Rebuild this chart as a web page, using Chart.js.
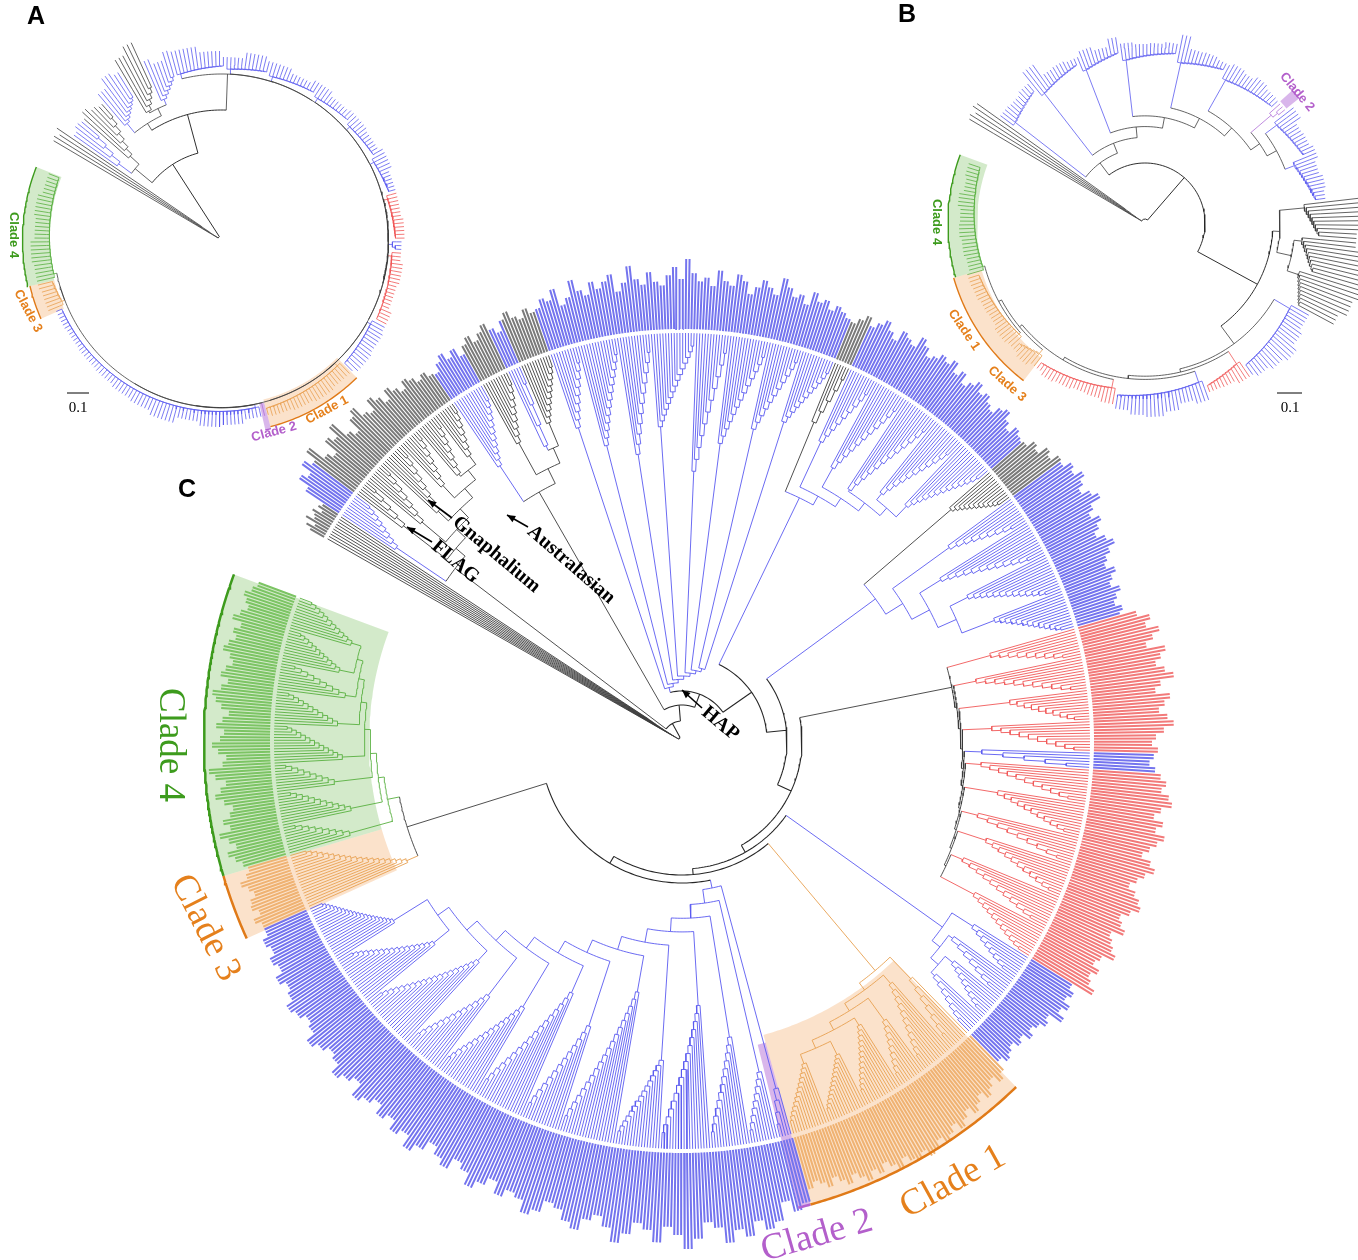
<!DOCTYPE html>
<html>
<head>
<meta charset="utf-8">
<script src="https://cdn.jsdelivr.net/npm/chart.js@4.4.0/dist/chart.umd.min.js"></script>
<style>
html, body { margin: 0; padding: 0; background: #fff; }
#wrap { width: 1358px; height: 1260px; }
</style>
</head>
<body>
<div id="wrap"><canvas id="tree"></canvas></div>
<script>
// ---------- panel C (big tree) ----------
// angles in degrees clockwise from 12 o'clock, leaves laid out from the outgroup round to clade 4
const cStart = 299.5, cStep = 0.4, cRing = 408;
// leaf runs: [leaves, first node radius, last node radius, colour]
const runsOutgroup = [[10, 4, 40, 'k']];
const runsFlag = [[9, 345, 390, 'b'], [6, 352, 395, 'k'], [8, 340, 395, 'k'], [9, 335, 395, 'k'], [8, 350, 398, 'k'], [8, 348, 395, 'k'], [8, 356, 398, 'k']];
const runsAustral = [[12, 330, 392, 'b'], [10, 340, 395, 'k'], [5, 325, 390, 'b'], [11, 345, 396, 'k']];
const runsTop = [[10, 330, 392, 'b'], [14, 305, 392, 'b'], [12, 290, 390, 'b'], [16, 315, 395, 'b'], [12, 270, 390, 'b'], [14, 300, 392, 'b'], [12, 320, 395, 'b'], [12, 335, 395, 'b']];
const runsRightTop = [[6, 345, 395, 'k'], [10, 330, 392, 'b'], [12, 312, 392, 'b'], [13, 302, 392, 'b'], [12, 318, 390, 'b'], [14, 325, 395, 'b']];
const runsRight = [[12, 355, 395, 'k'], [10, 330, 392, 'b'], [13, 305, 390, 'b'], [14, 320, 392, 'b'], [14, 335, 395, 'b']];
const runsRed = [[10, 320, 390, 'r'], [12, 300, 392, 'r'], [11, 330, 393, 'r'], [11, 310, 392, 'r'], [6, 300, 385, 'b'], [12, 300, 390, 'r'], [12, 320, 392, 'r'], [10, 305, 392, 'r'], [12, 320, 395, 'r'], [12, 305, 390, 'r'], [12, 330, 395, 'r']];
const runsBlueLow = [[9, 345, 392, 'b'], [8, 335, 390, 'b'], [9, 350, 395, 'b'], [8, 345, 392, 'b']];
const runsClade1 = [[8, 330, 392, 'o'], [12, 320, 392, 'o'], [10, 345, 395, 'o'], [14, 335, 392, 'o'], [14, 350, 395, 'o'], [14, 345, 395, 'o']];
const runsLowerLeft = [[5, 360, 395, 'b'], [10, 340, 395, 'b'], [14, 300, 392, 'b'], [18, 265, 392, 'b'], [16, 320, 395, 'b'], [20, 255, 392, 'b'], [14, 300, 392, 'b'], [18, 275, 390, 'b'], [16, 310, 392, 'b'], [14, 320, 393, 'b'], [20, 300, 392, 'b'], [18, 320, 392, 'b'], [21, 340, 395, 'b']];
const runsClade3 = [[20, 300, 392, 'o']];
const runsClade4 = [[10, 345, 396, 'g'], [12, 338, 395, 'g'], [10, 350, 397, 'g'], [14, 340, 395, 'g'], [12, 345, 396, 'g'], [10, 340, 394, 'g'], [12, 350, 396, 'g'], [12, 345, 395, 'g']];

// label lengths beyond the ring (px), read round the circle
const tipsOutgroup = [16, 22, 14, 26, 18, 20, 24, 15, 21, 18];
const tipsFlag = [40, 52, 46, 58, 50, 62, 44, 38, 54, 48, 60, 42, 36, 50, 56, 44, 40, 52, 46, 38, 48, 42, 36, 44, 40, 34, 38, 32];
const tipsAustral = [30, 38, 44, 36, 42, 32, 40, 46, 38, 44, 50, 42, 36, 46, 52, 44, 40, 48, 42];
const tipsTop = [44, 52, 48, 58, 40, 46, 62, 50, 44, 56, 48, 54, 60, 42, 50, 66, 52, 46, 58, 48, 44, 54, 62, 50, 70, 56, 48, 52, 44, 60,
  50, 46, 58, 52, 40, 48, 56, 50, 44, 62, 54, 46, 50, 42, 56, 48, 52, 44, 50, 46, 42];
const tipsRightTop = [40, 46, 52, 44, 50, 56, 48, 42, 54, 50, 46, 58, 52, 44, 48, 54, 50, 56, 46, 52, 42, 48, 54, 46, 50, 44, 40, 48, 52, 44, 38, 46, 42, 40];
const tipsRight = [42, 50, 46, 56, 52, 60, 58, 66, 62, 70, 64, 58, 66, 72, 60, 54, 62, 56, 50, 58, 64, 56, 50, 46, 54, 48, 44, 52, 46, 42, 48, 44];
const tipsRed = [60, 72, 66, 78, 70, 62, 80, 74, 68, 76, 84, 70, 64, 78, 72, 66, 74, 80, 70, 62, 58, 64, 60, 56, 62, 68, 74, 70, 78, 82,
  72, 66, 76, 70, 80, 74, 68, 62, 72, 78, 70, 64, 58, 66, 72, 76, 68, 60, 64, 70, 58, 62, 66, 72, 60, 56, 64, 58, 62, 70];
const tipsBlueLow = [48, 54, 50, 58, 52, 60, 46, 50, 44, 40, 46, 38, 42, 36, 40, 44, 38];
const tipsClade1 = [48, 54, 46, 52, 58, 50, 56, 62, 54, 60, 66, 58, 64, 70, 62, 68, 72, 64, 70, 66, 60, 68, 62, 56, 64, 58, 66, 60, 54, 62, 56, 50, 58, 52, 48, 54];
const tipsLowerLeft = [66, 72, 60, 78, 84, 74, 88, 80, 92, 76, 70, 86, 96, 82, 74, 90, 78, 72, 84, 94, 80, 70, 76, 88, 82, 72, 68, 80, 86, 74,
  70, 78, 66, 74, 82, 70, 64, 76, 70, 62, 72, 80, 68, 74, 64, 70, 60, 66, 72, 58, 64, 70, 60, 56, 62, 68, 58, 54, 60, 64, 56, 52, 58, 50, 54, 48, 52, 46];
const tipsClade34 = [46, 52, 44, 50, 48, 42, 46, 52, 44, 40,
  44, 50, 56, 46, 52, 60, 48, 54, 46, 42, 50, 58, 52, 46, 56, 62, 48, 44, 52, 58, 50, 46, 54, 48, 42, 50, 56, 60, 52, 46, 54, 50, 44, 48, 56, 52, 46, 50, 44, 54, 48, 42, 46, 50, 44, 40];

// clades on the backbone: [name, runs or sub-clades, node radii, stem colour, tips]
const cladeC3 = ['Clade 3', runsClade3, [300], 'o'];
const cladeC4 = ['Clade 4', runsClade4, [300, 335], 'g'];
const cladesC = [
  ['outgroup', runsOutgroup, [4], 'k', tipsOutgroup],
  ['FLAG + Gnaphalium', runsFlag, [285, 345], 'k', tipsFlag],
  ['Australasian', runsAustral, [287, 320], 'k', tipsAustral],
  ['HAP top', runsTop, [55, 75], 'b', tipsTop],
  ['upper right', runsRightTop, [270, 310], 'b', tipsRightTop],
  ['right', runsRight, [240, 300], 'b', tipsRight],
  ['red', runsRed, [275, 292], 'k', tipsRed],
  ['lower right', runsBlueLow, [320, 340], 'b', tipsBlueLow],
  ['Clade 1', runsClade1, [300, 335], 'o', tipsClade1],
  ['Clade 2 + lower left', runsLowerLeft, [150, 300], 'b', tipsLowerLeft],
  ['Clade 3 + 4', [cladeC3, cladeC4], [288], 'k', tipsClade34]
];
const backboneC = [4, 20, 36, 50, 85, 105, 120, 128, 134, 142];
// highlighted sectors: [from, to, inner r, outer r, colour]
const wedgesC = [[253.6, 290.4, 313, 478, 'g'], [245.6, 253.6, 313, 478, 'o'], [136, 164.5, 305, 481, 'o'], [164.5, 166, 313, 481, 'p']];

// ---------- panel A ----------
const aStart = 300, aStep = 1.2, aRing = 175;
const runsAOut = [[4, 4, 24, 'k']];
const runsA1 = [[5, 128, 160, 'b'], [7, 124, 164, 'k']];
const runsA2 = [[8, 150, 168, 'b'], [6, 148, 168, 'k'], [7, 152, 170, 'b']];
const runsAMain = [[14, 171, 174, 'b'], [12, 171, 174, 'b'], [14, 171, 174, 'b'], [12, 171, 174, 'b'], [12, 171, 174, 'b'], [11, 171, 174, 'b'],
  [13, 171, 174, 'r'], [3, 171, 174, 'b'], [20, 171, 174, 'r'], [15, 171, 174, 'b'], [25, 171, 174, 'o'], [1, 171, 174, 'p'],
  [67, 171, 174, 'b'], [8, 171, 174, 'o'], [29, 171, 174, 'g']];
const tipsAOut = [20, 22, 18, 24];
const tipsA1 = [6, 10, 8, 14, 9, 6];
const tipsA2 = [16, 26, 22, 34, 42, 20, 14, 22];
const tipsAMain = [20, 14, 8, 14, 10, 6, 10, 6, 8, 6, 10, 6, 6, 8, 5, 8, 6, 10, 12, 14, 10, 12, 10, 8,
  6, 10, 12, 8, 14, 10, 8, 6, 5, 4, 5, 12, 14, 16, 12, 14, 10];
const cladesA = [
  ['outgroup', runsAOut, [4], 'k', tipsAOut],
  ['basal 1', runsA1, [112], 'k', tipsA1],
  ['basal 2', runsA2, [138, 146], 'k', tipsA2],
  ['core', runsAMain, [166, 168], 'k', tipsAMain]
];
const backboneA = [4, 90, 130];
const wedgesA = [[256.5, 291.5, 172, 199, 'g'], [246.4, 256.5, 172, 197, 'o'], [135.5, 165.3, 165, 193, 'o'], [165.3, 167, 168, 195, 'p']];

// ---------- panel B ----------
const bStart = 300, bStep = 1.2, bRing = 176;
const runsBOut = [[5, 4, 24, 'k']];
const runsBTop = [[12, 164, 172, 'b'], [14, 164, 172, 'b'], [12, 164, 172, 'b'], [16, 164, 172, 'b'], [14, 164, 172, 'b'], [17, 164, 172, 'b'], [3, 166, 172, 'p'], [13, 164, 172, 'b'], [13, 160, 172, 'b']];
const runsBBlack = [[10, 160, 174, 'k'], [10, 158, 174, 'k'], [10, 162, 174, 'k']];
const runsBRest = [[22, 168, 174, 'b'], [12, 168, 174, 'r'], [25, 168, 174, 'b'], [23, 168, 174, 'r'], [8, 168, 174, 'o'], [22, 168, 174, 'o'], [30, 168, 174, 'g']];
const tipsBOut = [28, 30, 26, 32, 30];
const tipsBTop = [4, 3, 6, 18, 4, 5, 3, 8, 4, 12, 5, 3, 4, 6, 16, 4, 5, 3, 6, 4, 8, 5, 4, 12, 5, 6, 9, 5, 8, 6];
const tipsBBlack = [40, 48, 36, 44, 60, 52, 46, 38];
const tipsBRest = [12, 16, 22, 18, 14, 10, 6, 5, 12, 8, 14, 18, 16, 12, 8, 5, 4, 6, 8, 5, 9, 6, 8, 5, 6, 8, 9, 6, 8, 10, 9, 12, 8, 10];
const cladesB = [
  ['outgroup', runsBOut, [4], 'k', tipsBOut],
  ['upper', runsBTop, [75, 150], 'k', tipsBTop],
  ['right', runsBBlack, [135, 150], 'k', tipsBBlack],
  ['lower', runsBRest, [150, 166], 'k', tipsBRest]
];
const backboneB = [4, 60, 128];
const wedgesB = [[254, 290.3, 168, 197, 'g'], [217.6, 254, 170, 199, 'o'], [48, 51, 182, 198, 'p']];

// ---------- styling ----------
const W = 1358, H = 1260;
const branchColour = { k: '#3c3c3c', K: '#262626', b: '#5a5af0', r: '#f05858', o: '#e8a050', g: '#58b040', p: '#b070d8' };
const labelColour = { k: '#7a7a7a', b: '#7474ee', r: '#f27a7a', o: '#efb272', g: '#7cc464', p: '#c48ee0' };
const fillColour = { g: 'rgba(140,200,115,0.38)', o: 'rgba(244,178,118,0.38)', p: 'rgba(180,110,215,0.5)' };
const edgeColour = { g: '#3d9b1d', o: '#e07a18', p: '#b060d0' };
const green = '#3d9b1d', orange = '#e5801c', purple = '#b35fcb';

const buckets = {};
function add(key, colour, width, pts) {
  if (!buckets[key]) buckets[key] = { colour, width, pts: [] };
  const b = buckets[key].pts;
  for (const p of pts) b.push(p);
  b.push({ x: null, y: null });
}
function polar(cx, cy, r, a) {
  const t = a * Math.PI / 180;
  return { x: cx + r * Math.sin(t), y: cy - r * Math.cos(t) };
}
function arcPts(cx, cy, r, a1, a2) {
  const n = Math.max(1, Math.ceil(Math.abs(a2 - a1) * Math.PI / 180 * r / 3));
  const out = [];
  for (let i = 0; i <= n; i++) out.push(polar(cx, cy, r, a1 + (a2 - a1) * i / n));
  return out;
}

function drawTree(panel, cfg) {
  let idx = 0;
  const P = (r, a) => polar(cfg.cx, cfg.cy, r, a);
  const branch = (c, pts) => add(panel + c, branchColour[c], c === 'K' ? cfg.lw * 1.2 : cfg.lw, pts);
  const seg = (c, r1, r2, a) => branch(c, [P(r1, a), P(r2, a)]);
  const arc = (c, r, a1, a2) => branch(c, arcPts(cfg.cx, cfg.cy, r, a1, a2));

  // caterpillar: node j joins child j with the rest
  function ladder(kids, radii, c) {
    if (kids.length === 1) return kids[0];
    const n = kids.length, nodes = n - 1;
    const rr = radii.length === nodes ? radii : Array.from({ length: nodes }, (_, j) =>
      nodes === 1 ? radii[0] : radii[0] + (radii[radii.length - 1] - radii[0]) * j / (nodes - 1));
    const m = new Array(nodes);
    m[nodes - 1] = (kids[n - 2].a + kids[n - 1].a) / 2;
    for (let j = nodes - 2; j >= 0; j--) m[j] = (kids[j].a + m[j + 1]) / 2;
    for (let j = 0; j < nodes; j++) {
      seg(kids[j].c, rr[j], kids[j].r, kids[j].a);
      if (j < nodes - 1) {
        arc(c, rr[j], kids[j].a, m[j + 1]);
        seg(c, rr[j], rr[j + 1], m[j + 1]);
      } else {
        arc(c, rr[j], kids[j].a, kids[n - 1].a);
        seg(kids[n - 1].c, rr[j], kids[n - 1].r, kids[n - 1].a);
      }
    }
    return { a: m[0], r: rr[0], c };
  }
  function run(spec, leaves) {
    const [n, r0, r1, c] = spec;
    const kids = [];
    for (let i = 0; i < n; i++) {
      const leaf = { a: cfg.start + cfg.step * (idx + 0.5), r: cfg.ring, c };
      idx++;
      kids.push(leaf);
      leaves.push(leaf);
    }
    return ladder(kids, [r0, r1], c);
  }
  function clade(spec, leaves) {
    const kids = spec[1].map(it => typeof it[0] === 'number' ? run(it, leaves) : clade(it, leaves));
    return ladder(kids, spec[2], spec[3]);
  }

  const roots = cfg.clades.map(spec => {
    const leaves = [];
    const root = clade(spec, leaves);
    const tips = spec[4];
    leaves.forEach((leaf, k) => {
      const len = tips[Math.floor(k * tips.length / leaves.length)];
      const r1 = cfg.ring + cfg.gap;
      const pts = [P(r1, leaf.a), P(r1 + len, leaf.a)];
      if (cfg.labels) add(panel + 'L' + leaf.c, labelColour[leaf.c], cfg.tipW, pts);
      else branch(leaf.c, pts);
    });
    return root;
  });
  ladder(roots, cfg.backbone, 'K');
}

const wedgeSets = [];
function drawWedges(cx, cy, list, lw) {
  list.forEach(([a1, a2, r1, r2, c]) => {
    const pts = arcPts(cx, cy, r2, a1, a2).concat(arcPts(cx, cy, r1, a2, a1));
    pts.push(pts[0]);
    wedgeSets.push({ data: pts, fill: 'shape', backgroundColor: fillColour[c], borderColor: 'rgba(0,0,0,0)', borderWidth: 0, pointRadius: 0, order: 10 });
    wedgeSets.push({ data: arcPts(cx, cy, r2, a1, a2), fill: false, borderColor: edgeColour[c], borderWidth: lw, pointRadius: 0, order: 0 });
  });
}

drawTree('C', { cx: 682, cy: 741, start: cStart, step: cStep, ring: cRing, gap: 4, lw: 0.9, tipW: 2, labels: true, clades: cladesC, backbone: backboneC });
drawTree('A', { cx: 221.5, cy: 240, start: aStart, step: aStep, ring: aRing, gap: 0, lw: 0.8, tipW: 0.8, labels: false, clades: cladesA, backbone: backboneA });
drawTree('B', { cx: 1145, cy: 223, start: bStart, step: bStep, ring: bRing, gap: 0, lw: 0.8, tipW: 0.8, labels: false, clades: cladesB, backbone: backboneB });
drawWedges(682, 741, wedgesC, 2.5);
drawWedges(221.5, 240, wedgesA, 1.4);
drawWedges(1145, 223, wedgesB, 1.4);

// scale bars
const scaleBars = [[67, 89, 393], [1277, 1302, 393]];
scaleBars.forEach(([x1, x2, y]) => add('S', '#000', 1, [{ x: x1, y }, { x: x2, y }]));

const datasets = Object.values(buckets).map(b => ({
  data: b.pts, borderColor: b.colour, borderWidth: b.width, fill: false, pointRadius: 0, spanGaps: false, order: 1
})).concat(wedgeSets);

// ---------- text ----------
const cFont = '37px "Liberation Serif"', smallFont = 'bold 13px "Liberation Sans"', noteFont = 'bold 20px "Liberation Serif"', panelFont = 'bold 25px "Liberation Sans"';
const texts = [
  { text: 'A', x: 36, y: 17, rot: 0, font: panelFont, colour: '#000' },
  { text: 'B', x: 907, y: 15, rot: 0, font: panelFont, colour: '#000' },
  { text: 'C', x: 187, y: 490, rot: 0, font: panelFont, colour: '#000' },
  { text: 'Clade 4', x: 14, y: 235, rot: 90, font: smallFont, colour: green },
  { text: 'Clade 3', x: 28, y: 311, rot: 62, font: smallFont, colour: orange },
  { text: 'Clade 1', x: 327, y: 410, rot: -28, font: smallFont, colour: orange },
  { text: 'Clade 2', x: 274, y: 432, rot: -15, font: smallFont, colour: purple },
  { text: 'Clade 4', x: 937, y: 222, rot: 90, font: smallFont, colour: green },
  { text: 'Clade 1', x: 964, y: 330, rot: 56, font: smallFont, colour: orange },
  { text: 'Clade 3', x: 1007, y: 384, rot: 42, font: smallFont, colour: orange },
  { text: 'Clade 2', x: 1297, y: 92, rot: 50, font: smallFont, colour: purple },
  { text: '0.1', x: 78, y: 408, rot: 0, font: '15px "Liberation Serif"', colour: '#000' },
  { text: '0.1', x: 1290, y: 408, rot: 0, font: '15px "Liberation Serif"', colour: '#000' },
  { text: 'Clade 4', x: 170, y: 745, rot: 90, font: cFont, colour: green },
  { text: 'Clade 3', x: 205, y: 928, rot: 63, font: cFont, colour: orange },
  { text: 'Clade 1', x: 953, y: 1182, rot: -29, font: cFont, colour: orange },
  { text: 'Clade 2', x: 817, y: 1236, rot: -16, font: cFont, colour: purple },
  { text: 'Gnaphalium', x: 455, y: 520, rot: 40, font: noteFont, colour: '#000', align: 'left' },
  { text: 'FLAG', x: 434, y: 544, rot: 40, font: noteFont, colour: '#000', align: 'left' },
  { text: 'Australasian', x: 530, y: 529, rot: 41, font: noteFont, colour: '#000', align: 'left' },
  { text: 'HAP', x: 704, y: 710, rot: 40, font: noteFont, colour: '#000', align: 'left' }
];
const arrows = [[452, 518, 428, 500], [432, 542, 407, 527], [528, 527, 507, 515], [702, 708, 682, 690]];

const textPlugin = {
  id: 'treeText',
  afterDatasetsDraw(chart) {
    const ctx = chart.ctx, xs = chart.scales.x, ys = chart.scales.y;
    arrows.forEach(([x1, y1, x2, y2]) => {
      const p1 = [xs.getPixelForValue(x1), ys.getPixelForValue(y1)];
      const p2 = [xs.getPixelForValue(x2), ys.getPixelForValue(y2)];
      const ang = Math.atan2(p2[1] - p1[1], p2[0] - p1[0]);
      ctx.save();
      ctx.strokeStyle = '#000'; ctx.fillStyle = '#000'; ctx.lineWidth = 1.6;
      ctx.beginPath(); ctx.moveTo(p1[0], p1[1]); ctx.lineTo(p2[0], p2[1]); ctx.stroke();
      ctx.beginPath();
      ctx.moveTo(p2[0], p2[1]);
      ctx.lineTo(p2[0] - 9 * Math.cos(ang - 0.4), p2[1] - 9 * Math.sin(ang - 0.4));
      ctx.lineTo(p2[0] - 9 * Math.cos(ang + 0.4), p2[1] - 9 * Math.sin(ang + 0.4));
      ctx.closePath(); ctx.fill();
      ctx.restore();
    });
    texts.forEach(t => {
      ctx.save();
      ctx.translate(xs.getPixelForValue(t.x), ys.getPixelForValue(t.y));
      ctx.rotate(t.rot * Math.PI / 180);
      ctx.font = t.font;
      ctx.fillStyle = t.colour;
      ctx.textAlign = t.align || 'center';
      ctx.textBaseline = 'middle';
      ctx.fillText(t.text, 0, 0);
      ctx.restore();
    });
  }
};

new Chart(document.getElementById('tree'), {
  type: 'line',
  data: { datasets },
  options: {
    responsive: true,
    maintainAspectRatio: false,
    animation: false,
    events: [],
    layout: { padding: 0 },
    plugins: { legend: { display: false }, tooltip: { enabled: false } },
    elements: { point: { radius: 0 }, line: { tension: 0 } },
    scales: {
      x: { type: 'linear', min: 0, max: W, display: false },
      y: { type: 'linear', min: 0, max: H, reverse: true, display: false }
    }
  },
  plugins: [textPlugin]
});
</script>
</body>
</html>
